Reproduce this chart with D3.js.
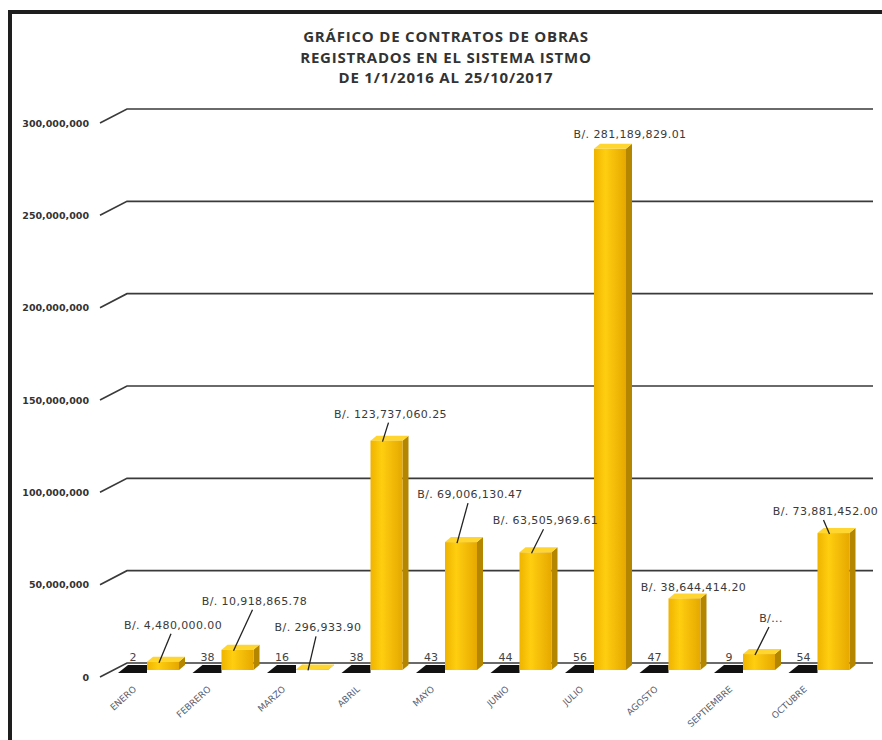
<!DOCTYPE html>
<html>
<head>
<meta charset="utf-8" />
<script src="https://d3js.org/d3.v7.min.js"></script>
<title>Contratos de obras</title>
<style>
  body { margin: 0; background: #fff; }
</style>
</head>
<body>
<svg id="chart"></svg>
<script>
// data
var months = ["ENERO", "FEBRERO", "MARZO", "ABRIL", "MAYO", "JUNIO", "JULIO", "AGOSTO", "SEPTIEMBRE", "OCTUBRE"];
var counts = [2, 38, 16, 38, 43, 44, 56, 47, 9, 54];
var amounts = [4480000.00, 10918865.78, 296933.90, 123737060.25, 69006130.47, 63505969.61, 281189829.01, 38644414.20, 8600000, 73881452.00];
var amountLabels = ["B/. 4,480,000.00", "B/. 10,918,865.78", "B/. 296,933.90", "B/. 123,737,060.25", "B/. 69,006,130.47",
  "B/. 63,505,969.61", "B/. 281,189,829.01", "B/. 38,644,414.20", "B/...", "B/. 73,881,452.00"];
var yTicks = [0, 50000000, 100000000, 150000000, 200000000, 250000000, 300000000];
var titleLines = ["GRÁFICO DE CONTRATOS DE OBRAS", "REGISTRADOS EN EL SISTEMA ISTMO", "DE 1/1/2016 AL 25/10/2017"];

// label nudges (excel moved these by hand)
var labelNudge = [[10, -37], [17, -49], [6, -42], [4, -27], [9, -48], [10, -32], [20, -15], [9, -11], [12, -36], [-8, -22]];

var width = 882, height = 740;
var svg = d3.select("#chart").attr("width", width).attr("height", height);

// frame
svg.append("rect").attr("x", 8).attr("y", 10).attr("width", 880).attr("height", 4).attr("fill", "#1e1e1e");
svg.append("rect").attr("x", 8).attr("y", 10).attr("width", 4).attr("height", 740).attr("fill", "#1e1e1e");

// title
svg.append("g").selectAll("text").data(titleLines).enter().append("text")
  .attr("x", 446).attr("y", function(d, i) { return 42 + i * 20.5; })
  .attr("text-anchor", "middle")
  .style("font-family", "'Open Sans', Lato, sans-serif")
  .style("font-weight", "bold").style("font-size", "15px").style("letter-spacing", "0.8px").style("fill", "#333")
  .text(function(d) { return d; });

// scales
var yBar = d3.scaleLinear().domain([0, 300000000]).range([670, 114]);
var yLab = d3.scaleLinear().domain([0, 300000000]).range([677, 123]);
var depthX = 27, depthY = -14;
var x = d3.scaleBand().domain(months).range([110, 855]).padding(0);

// gridlines with 3d back wall
var grid = svg.append("g");
yTicks.forEach(function(t) {
  var yl = yLab(t);
  grid.append("path")
    .attr("d", "M100," + yl + "L" + (100 + depthX) + "," + (yl + depthY) + "L873," + (yl + depthY))
    .attr("fill", "none").attr("stroke", "#3a3a3a").attr("stroke-width", 1.6);
});

var yAxis = d3.axisLeft(yLab).tickValues(yTicks).tickSize(0).tickFormat(d3.format(","));
var ya = svg.append("g").attr("transform", "translate(92,0)").call(yAxis);
ya.select(".domain").remove();
ya.selectAll("text")
  .style("font-family", "'DejaVu Sans', Verdana, sans-serif")
  .style("font-weight", "bold").style("font-size", "9.5px").style("fill", "#333");

// gradient for gold bars
var defs = svg.append("defs");
var grad = defs.append("linearGradient").attr("id", "gold").attr("x1", "0").attr("x2", "1").attr("y1", "0").attr("y2", "0");
grad.append("stop").attr("offset", "0%").attr("stop-color", "#EFB300");
grad.append("stop").attr("offset", "35%").attr("stop-color", "#FFCE10");
grad.append("stop").attr("offset", "100%").attr("stop-color", "#E6A800");

var barW = 32, sideW = 6, topH = 5;

// count series (black, nearly flat)
var cnt = svg.append("g");
months.forEach(function(m, i) {
  var x0 = x(m) + 8, w = 29;
  var yTop = yBar(counts[i]);
  cnt.append("path")
    .attr("d", "M" + x0 + ",673L" + (x0 + w) + ",673L" + (x0 + w) + "," + (yTop - 5) + "L" + (x0 + 10) + "," + (yTop - 5) + "Z")
    .attr("fill", "#111");
  cnt.append("text")
    .attr("x", x(m) + 23).attr("y", 661)
    .attr("text-anchor", "middle")
    .style("font-family", "'DejaVu Sans', Verdana, sans-serif")
    .style("font-size", "11px").style("fill", "#444")
    .text(counts[i]);
});

// amount series (gold 3d columns)
var bars = svg.append("g");
months.forEach(function(m, i) {
  var x0 = x(m) + 37;
  var yTop = yBar(amounts[i]);
  var y0 = yBar(0);
  // side
  bars.append("path")
    .attr("d", "M" + (x0 + barW) + "," + y0 + "L" + (x0 + barW + sideW) + "," + (y0 - topH) +
      "L" + (x0 + barW + sideW) + "," + (yTop - topH) + "L" + (x0 + barW) + "," + yTop + "Z")
    .attr("fill", "#B48600");
  // top
  bars.append("path")
    .attr("d", "M" + x0 + "," + yTop + "L" + (x0 + sideW) + "," + (yTop - topH) + "L" + (x0 + barW + sideW) + "," + (yTop - topH) +
      "L" + (x0 + barW) + "," + yTop + "Z")
    .attr("fill", "#FFD630");
  // front
  bars.append("rect")
    .attr("x", x0).attr("y", yTop).attr("width", barW).attr("height", Math.max(0.5, y0 - yTop))
    .attr("fill", "url(#gold)");
});

// value labels with leader lines
var labs = svg.append("g");
months.forEach(function(m, i) {
  var cx = x(m) + 37 + barW / 2;
  var yTop = yBar(amounts[i]);
  var lx = cx + labelNudge[i][0], ly = yTop + labelNudge[i][1];
  if (labelNudge[i][1] < -20) {
    labs.append("line")
      .attr("x1", lx - 2).attr("y1", ly + 9)
      .attr("x2", cx - 4).attr("y2", yTop + 1)
      .attr("stroke", "#222").attr("stroke-width", 1.3);
  }
  labs.append("text")
    .attr("x", lx).attr("y", ly + 4)
    .attr("text-anchor", "middle")
    .style("font-family", "'DejaVu Sans', Verdana, sans-serif")
    .style("font-size", "11px").style("letter-spacing", "0.4px").style("fill", "#3a3a3a")
    .text(amountLabels[i]);
});

// month labels, rotated
var xl = svg.append("g");
months.forEach(function(m, i) {
  var ax = x(m) + 27, ay = 690;
  xl.append("text")
    .attr("transform", "translate(" + ax + "," + ay + ") rotate(-42)")
    .attr("text-anchor", "end")
    .style("font-family", "'DejaVu Sans', Verdana, sans-serif")
    .style("font-size", "9px").style("fill", "#5a6070")
    .text(m);
});
</script>
</body>
</html>
